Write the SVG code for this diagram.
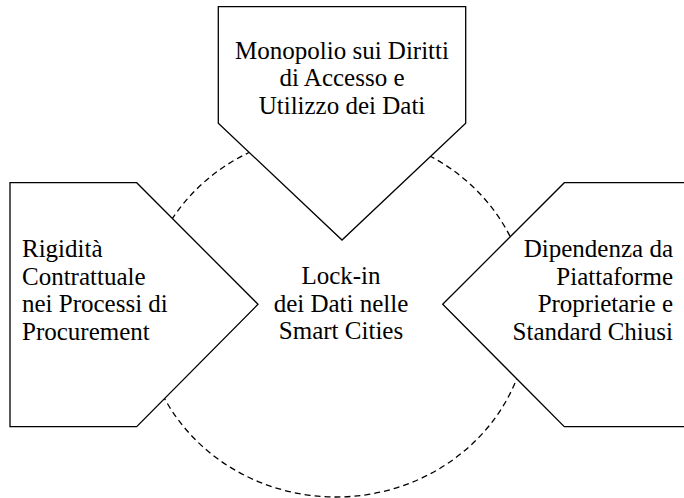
<svg xmlns="http://www.w3.org/2000/svg" width="684" height="498" viewBox="0 0 684 498">
  <style>
    .shape { fill: #ffffff; stroke: #000000; stroke-width: 1.3; stroke-linejoin: miter; }
    .ring { fill: none; stroke: #000000; stroke-width: 1.3; stroke-dasharray: 6 4; }
    text { font-family: "Liberation Serif", "Times New Roman", serif; font-size: 25px; fill: #000000; }
  </style>
  <rect width="684" height="498" fill="#ffffff"/>
  <g id="connectors">
    <ellipse class="ring" cx="336" cy="315" rx="193" ry="182"/>
  </g>
  <g id="node-center">
    <text x="341" y="284" text-anchor="middle">Lock-in</text>
    <text x="341" y="311.6" text-anchor="middle">dei Dati nelle</text>
    <text x="341" y="339.2" text-anchor="middle">Smart Cities</text>
  </g>
  <g id="node-top">
    <polygon class="shape" points="218.3,6.7 465.7,6.7 465.7,123.3 342,240 218.3,123.3"/>
    <text x="342" y="58.5" text-anchor="middle">Monopolio sui Diritti</text>
    <text x="342" y="86.1" text-anchor="middle">di Accesso e</text>
    <text x="342" y="113.7" text-anchor="middle">Utilizzo dei Dati</text>
  </g>
  <g id="node-left">
    <polygon class="shape" points="10,182.7 136.7,182.7 258,304.3 136.7,426.7 10,426.7"/>
    <text x="22" y="257">Rigidità</text>
    <text x="22" y="284.6">Contrattuale</text>
    <text x="22" y="312.2">nei Processi di</text>
    <text x="22" y="339.8">Procurement</text>
  </g>
  <g id="node-right">
    <polygon class="shape" points="442.7,304.3 564.3,182.7 690,182.7 690,426.7 564.3,426.7"/>
    <text x="673" y="257" text-anchor="end">Dipendenza da</text>
    <text x="673" y="284.6" text-anchor="end">Piattaforme</text>
    <text x="673" y="312.2" text-anchor="end">Proprietarie e</text>
    <text x="673" y="339.8" text-anchor="end">Standard Chiusi</text>
  </g>
</svg>
